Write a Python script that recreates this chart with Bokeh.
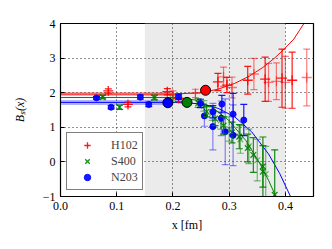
import numpy as np
from bokeh.plotting import figure
from bokeh.models import (ColumnDataSource, BoxAnnotation, Legend, LegendItem,
                          FixedTicker, PrintfTickFormatter, Range1d)
from bokeh.embed import file_html
from bokeh.resources import INLINE

FONT = "Liberation Serif"

# ---------------- data ----------------
red_x = [0.085, 0.12, 0.19, 0.21, 0.28, 0.296, 0.333, 0.364, 0.394, 0.412]
red_y = [2.05, 1.66, 2.03, 1.84, 2.31, 2.22, 2.36, 2.39, 2.42, 2.36]
red_err = [0.06, 0.07, 0.09, 0.10, 0.25, 0.22, 0.40, 0.64, 0.84, 0.81]
red_faint_x = [0.20, 0.24, 0.29, 0.305, 0.344, 0.37, 0.384, 0.40, 0.438]
red_faint_y = [1.95, 1.98, 2.46, 2.15, 2.54, 2.30, 2.33, 2.30, 2.44]
red_faint_err = [0.10, 0.12, 0.28, 0.30, 0.45, 0.55, 0.53, 0.75, 0.82]

green_x = [0.075, 0.105, 0.167, 0.245, 0.26, 0.275, 0.29, 0.305, 0.318, 0.333, 0.343, 0.36, 0.36, 0.381]
green_y = [1.87, 1.58, 1.86, 1.70, 1.45, 1.25, 1.05, 0.85, 0.73, 0.40, 0.20, -0.13, -0.28, -0.95]
green_err = [0.05, 0.06, 0.07, 0.12, 0.15, 0.20, 0.25, 0.30, 0.35, 0.40, 0.50, 0.60, 1.00, 1.30]
green_faint_x = [0.20, 0.255, 0.27, 0.285, 0.30, 0.32, 0.335, 0.35, 0.365]
green_faint_y = [1.82, 1.62, 1.40, 1.20, 0.95, 0.65, 0.45, 0.05, -0.35]
green_faint_err = [0.10, 0.15, 0.20, 0.25, 0.35, 0.40, 0.50, 0.60, 0.80]

blue_x = [0.064, 0.09, 0.142, 0.157, 0.21, 0.249, 0.271, 0.287, 0.307, 0.326]
blue_y = [1.85, 1.58, 1.87, 1.66, 1.88, 1.69, 1.45, 1.67, 1.38, 1.21]
blue_err = [0.04, 0.05, 0.06, 0.06, 0.08, 0.12, 0.18, 0.25, 0.60, 0.45]
blue_faint_x = [0.256, 0.271, 0.286, 0.293, 0.307]
blue_faint_y = [1.33, 1.02, 1.26, 0.87, 0.77]
blue_faint_err = [0.30, 0.67, 0.50, 0.95, 0.88]

# highlighted points (large circles)
red_mark_x, red_mark_y = [0.258], [2.07]
green_mark_x, green_mark_y = [0.225], [1.72]
blue_mark_x, blue_mark_y = [0.191], [1.71]

# fit curves
red_fit_x = [0.0, 0.2, 0.25, 0.28, 0.31, 0.336, 0.36, 0.38, 0.396, 0.415, 0.433]
red_fit_y = [1.96, 1.96, 2.00, 2.10, 2.27, 2.48, 2.73, 2.99, 3.23, 3.55, 4.0]
green_fit_x = [0.0, 0.2, 0.24, 0.27, 0.30, 0.33, 0.355, 0.37, 0.385]
green_fit_y = [1.86, 1.86, 1.79, 1.58, 1.19, 0.61, -0.06, -0.53, -1.07]
blue_fit_x = [0.0, 0.2, 0.25, 0.28, 0.31, 0.34, 0.37, 0.39, 0.41]
blue_fit_y = [1.72, 1.72, 1.68, 1.55, 1.30, 0.87, 0.23, -0.34, -1.03]

plateau_x = [0.0, 0.2]
red_plateau = 1.96
blue_plateau = 1.72

shade_left, shade_right = 0.15, 0.4

x_ticks = [0.0, 0.1, 0.2, 0.3, 0.4]
y_ticks = [-1, 0, 1, 2, 3, 4]
x_grid = [0.1, 0.2, 0.3, 0.4]
y_grid = [0, 1, 2, 3]

x_title = "x [fm]"
y_title = "B\u209b(x)"

RED, GREEN, BLUE = "#ff0000", "#008000", "#0000ff"

# ---------------- figure ----------------
p = figure(width=324, height=241, x_range=Range1d(0, 0.45), y_range=Range1d(-1, 4),
           output_backend="svg", toolbar_location=None,
           min_border_left=60, min_border_right=11, min_border_top=23, min_border_bottom=45)
p.background_fill_color = "white"
p.border_fill_color = "white"
p.outline_line_color = "black"
p.outline_line_width = 1.2

p.add_layout(BoxAnnotation(left=shade_left, right=shade_right, fill_color="#ebebeb",
                           fill_alpha=1.0, line_color=None, level="image"))

p.xgrid.ticker = FixedTicker(ticks=x_grid)
p.ygrid.ticker = FixedTicker(ticks=y_grid)
for g in (p.xgrid, p.ygrid):
    g.grid_line_color = "black"
    g.grid_line_dash = "1 3"
    g.grid_line_alpha = 0.85
    g.grid_line_width = 1

for ax in p.axis:
    ax.axis_line_color = "black"
    ax.major_tick_in = 4
    ax.major_tick_out = 0
    ax.minor_tick_line_color = None
    ax.major_tick_line_color = "black"
    ax.major_label_text_font = FONT
    ax.major_label_text_font_size = "12px"
    ax.major_label_text_color = "black"
    ax.major_label_standoff = 5
    ax.axis_label_text_font = FONT
    ax.axis_label_text_font_size = "12px"
    ax.axis_label_text_font_style = "normal"
    ax.axis_label_text_color = "black"
p.xaxis.ticker = FixedTicker(ticks=x_ticks)
p.xaxis.formatter = PrintfTickFormatter(format="%.1f")
p.xaxis.axis_label = x_title
p.xaxis.axis_label_standoff = 5
p.yaxis.ticker = FixedTicker(ticks=y_ticks)
p.yaxis.major_label_overrides = {-1: "\u22121"}
p.yaxis.axis_label = y_title
p.yaxis.axis_label_text_font_style = "italic"
p.yaxis.axis_label_standoff = 13

# fit curves
p.line(plateau_x, [red_plateau, red_plateau], line_color=RED, line_width=4, line_alpha=0.3)
p.line(plateau_x, [blue_plateau, blue_plateau], line_color=BLUE, line_width=5, line_alpha=0.3)
p.line(red_fit_x, red_fit_y, line_color=RED, line_width=1)
p.line(green_fit_x, green_fit_y, line_color=GREEN, line_width=1)
p.line(blue_fit_x, blue_fit_y, line_color=BLUE, line_width=1)


def errorbars(xs, ys, es, color, alpha, marker, msize, marker_alpha=None):
    y = np.array(ys)
    e = np.array(es)
    src = ColumnDataSource(dict(x=xs, y=ys, lo=(y - e).tolist(), hi=(y + e).tolist()))
    p.segment(x0="x", y0="lo", x1="x", y1="hi", source=src, line_color=color,
              line_alpha=alpha, line_width=1.2)
    for key in ("lo", "hi"):
        p.scatter(x="x", y=key, source=src, marker="dash", size=7, line_color=color,
                  line_alpha=alpha, line_width=1.2)
    ma = alpha if marker_alpha is None else marker_alpha
    if marker == "circle":
        r = p.scatter(x="x", y="y", source=src, marker="circle", size=msize,
                      fill_color=color, line_color=color, fill_alpha=ma, line_alpha=ma)
    else:
        r = p.scatter(x="x", y="y", source=src, marker=marker, size=msize,
                      line_color=color, line_alpha=ma, line_width=1.3)
    return r


errorbars(red_faint_x, red_faint_y, red_faint_err, RED, 0.5, "cross", 10)
errorbars(green_faint_x, green_faint_y, green_faint_err, GREEN, 0.5, "x", 8)
errorbars(blue_faint_x, blue_faint_y, blue_faint_err, BLUE, 0.45, "circle", 6, marker_alpha=1.0)
r_red = errorbars(red_x, red_y, red_err, RED, 0.9, "cross", 10)
r_green = errorbars(green_x, green_y, green_err, GREEN, 0.9, "x", 8)
r_blue = errorbars(blue_x, blue_y, blue_err, BLUE, 0.9, "circle", 6)

for mx, my, c in ((blue_mark_x, blue_mark_y, BLUE), (green_mark_x, green_mark_y, GREEN),
                  (red_mark_x, red_mark_y, RED)):
    p.scatter(mx, my, marker="circle", size=10, fill_color=c, line_color="black", line_width=1)

legend = Legend(items=[LegendItem(label="H102", renderers=[r_red]),
                       LegendItem(label="S400", renderers=[r_green]),
                       LegendItem(label="N203", renderers=[r_blue])],
                location="bottom_left")
legend.margin = 6
legend.padding = 4
legend.spacing = 0
legend.glyph_width = 32
legend.glyph_height = 16
legend.label_height = 16
legend.label_standoff = 8
legend.label_text_font = FONT
legend.label_text_font_size = "12px"
legend.border_line_color = "black"
legend.border_line_width = 1.2
legend.background_fill_color = "white"
legend.background_fill_alpha = 1.0
p.add_layout(legend)

open("out.html", "w").write(file_html(p, INLINE))
